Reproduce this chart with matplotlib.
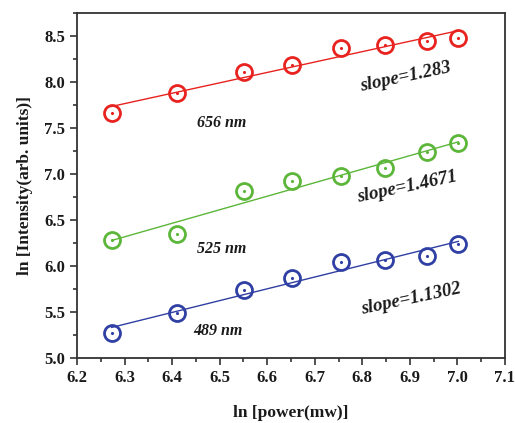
import numpy as np
import matplotlib
matplotlib.use("Agg")
from matplotlib import pyplot as plt
from matplotlib.ticker import MultipleLocator

# ln of pump power (mW)
ln_power = [6.273, 6.411, 6.551, 6.652, 6.755, 6.848, 6.936, 7.002]

# ln of emission intensity for each band
red_656 = [7.66, 7.88, 8.11, 8.19, 8.37, 8.40, 8.45, 8.48]
green_525 = [6.28, 6.35, 6.81, 6.92, 6.98, 7.07, 7.24, 7.34]
blue_489 = [5.27, 5.49, 5.74, 5.87, 6.04, 6.06, 6.11, 6.24]

band_names = ["656 nm", "525 nm", "489 nm"]
slope_texts = ["slope=1.283", "slope=1.4671", "slope=1.1302"]

plt.rcParams['font.family'] = ['Liberation Serif', 'DejaVu Serif']

fig = plt.figure(figsize=(5.15, 4.23), dpi=100)
ax = fig.add_axes([0.1495, 0.1537, 0.831, 0.8156])

series = [red_656, green_525, blue_489]
colors = ["#e8231f", "#5cb63a", "#2f3fa3"]
name_pos = [(6.505, 7.55), (6.505, 6.19), (6.497, 5.29)]
slope_pos = [(6.89, 8.05), (6.895, 6.86), (6.902, 5.64)]

x = np.array(ln_power)
for ys, c, nm, sl, npos, spos in zip(series, colors, band_names, slope_texts, name_pos, slope_pos):
    ys = np.array(ys)
    # linear fit in log-log space
    k, b = np.polyfit(x, ys, 1)
    ax.plot(x, k * x + b, color=c, lw=1.0, zorder=2)
    ax.plot(x, ys, 'o', ms=11.5, mfc='none', mec=c, mew=2.0, zorder=3)
    ax.plot(x, ys, '.', ms=2.5, color=c, zorder=3)
    ax.text(npos[0], npos[1], nm, fontsize=11.5, fontweight='bold', style='italic',
            ha='center', va='center', color='#1a1a1a')
    ax.text(spos[0], spos[1], sl, fontsize=13.5, fontweight='bold', style='italic',
            ha='center', va='center', rotation=12, color='#1a1a1a')

ax.set_xlim(6.2, 7.1)
ax.set_ylim(5.0, 8.75)
ax.xaxis.set_major_locator(MultipleLocator(0.1))
ax.xaxis.set_minor_locator(MultipleLocator(0.05))
ax.yaxis.set_major_locator(MultipleLocator(0.5))
ax.yaxis.set_minor_locator(MultipleLocator(0.25))
ax.tick_params(which='both', direction='out', top=False, right=False,
               colors='#333333', width=1.2)
ax.tick_params(which='major', length=5, labelsize=12, labelcolor='#1a1a1a')
ax.tick_params(which='minor', length=3)
for lab in ax.get_xticklabels() + ax.get_yticklabels():
    lab.set_fontweight('bold')
for sp in ax.spines.values():
    sp.set_linewidth(1.3)
    sp.set_color('#333333')

ax.set_xlabel("ln [power(mw)]", fontsize=12.5, fontweight='bold', labelpad=14, color='#1a1a1a')
ax.set_ylabel("ln [Intensity(arb. units)]", fontsize=12.5, fontweight='bold', labelpad=8, color='#1a1a1a')

fig.savefig("out.png", dpi=100)
